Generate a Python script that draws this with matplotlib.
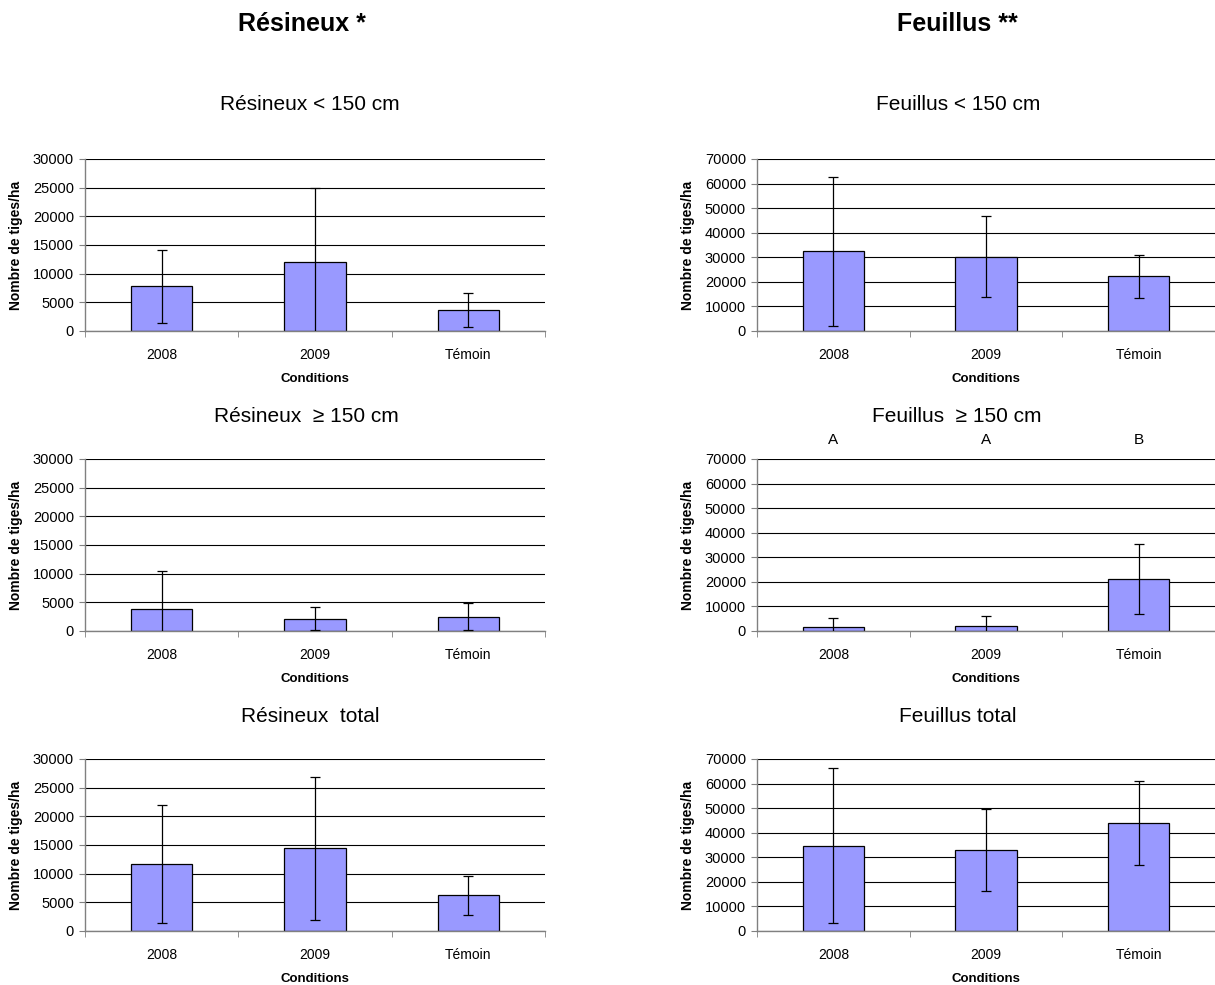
import matplotlib
matplotlib.use("Agg")
import matplotlib.pyplot as plt
from matplotlib.ticker import MultipleLocator, FixedLocator, NullFormatter

plt.rcParams["font.family"] = ["Liberation Sans", "DejaVu Sans"]

conditions = ["2008", "2009", "Témoin"]

# Résineux
res_lt150 = [7800, 12100, 3700]
res_lt150_err = [6400, 12900, 3000]
res_ge150 = [3900, 2100, 2500]
res_ge150_err = [6500, 2000, 2300]
res_total = [11700, 14400, 6200]
res_total_err = [10300, 12400, 3400]

# Feuillus
feu_lt150 = [32500, 30300, 22200]
feu_lt150_err = [30300, 16600, 8900]
feu_ge150 = [1600, 2200, 21300]
feu_ge150_err = [3500, 3800, 14200]
feu_total = [34700, 32800, 43850]
feu_total_err = [31600, 16700, 17150]
feu_ge150_letters = ["A", "A", "B"]

W, H = 1215, 985
fig = plt.figure(figsize=(W / 100, H / 100), dpi=100)

BAR = "#9999FF"
GREY = "#808080"


def panel(px_left, px_width, px_top, values, errors, ymax, step, title, title_x, title_y):
    ax = fig.add_axes([px_left / W, 1 - (px_top + 172) / H, px_width / W, 172 / H])
    x = range(len(conditions))
    ax.bar(x, values, width=0.4, color=BAR, edgecolor="black", linewidth=0.9, zorder=2)
    ax.errorbar(x, values, yerr=errors, fmt="none", ecolor="black",
                elinewidth=0.9, capsize=3.5, capthick=0.9, zorder=3)
    ax.set_xlim(-0.5, 2.5)
    ax.set_ylim(0, ymax)
    ax.yaxis.set_major_locator(MultipleLocator(step))
    ax.grid(axis="y", color="black", linewidth=0.8)
    ax.set_axisbelow(True)
    for s in ["top", "right"]:
        ax.spines[s].set_visible(False)
    for s in ["left", "bottom"]:
        ax.spines[s].set_color(GREY)
        ax.spines[s].set_linewidth(1.0)
    ax.set_xticks(list(x))
    ax.set_xticklabels(conditions, fontsize=10)
    ax.tick_params(axis="x", which="major", length=0, pad=12)
    ax.xaxis.set_minor_locator(FixedLocator([-0.5, 0.5, 1.5, 2.5]))
    ax.xaxis.set_minor_formatter(NullFormatter())
    ax.tick_params(axis="x", which="minor", length=4, color=GREY, direction="out")
    ax.tick_params(axis="y", length=4, color=GREY, labelsize=10.5, pad=4)
    ax.set_xlabel("Conditions", fontsize=9.5, fontweight="bold")
    ax.xaxis.set_label_coords(0.5, -42 / 172)
    ax.set_ylabel("Nombre de tiges/ha", fontsize=10, fontweight="bold")
    ax.yaxis.set_label_coords(-62 / px_width, 0.5)
    fig.text(title_x / W, 1 - title_y / H, title, fontsize=15,
             ha="center", va="center")
    return ax


fig.text(302 / W, 1 - 24 / H, "Résineux *", fontsize=18, fontweight="bold",
         ha="center", va="center")
fig.text(957 / W, 1 - 24 / H, "Feuillus **", fontsize=18, fontweight="bold",
         ha="center", va="center")

panel(85, 460, 159, res_lt150, res_lt150_err, 30000, 5000, "Résineux < 150 cm", 310, 104)
panel(85, 460, 459, res_ge150, res_ge150_err, 30000, 5000, "Résineux  ≥ 150 cm", 306, 416)
panel(85, 460, 759, res_total, res_total_err, 30000, 5000, "Résineux  total", 310, 716)

panel(757, 458, 159, feu_lt150, feu_lt150_err, 70000, 10000, "Feuillus < 150 cm", 958, 104)
ax_fg = panel(757, 458, 459, feu_ge150, feu_ge150_err, 70000, 10000, "Feuillus  ≥ 150 cm", 957, 416)
panel(757, 458, 759, feu_total, feu_total_err, 70000, 10000, "Feuillus total", 958, 716)

for i, letter in enumerate(feu_ge150_letters):
    ax_fg.text(i, 1.11, letter, transform=ax_fg.get_xaxis_transform(),
               fontsize=11, ha="center", va="center")

fig.savefig("out.png", dpi=100)
